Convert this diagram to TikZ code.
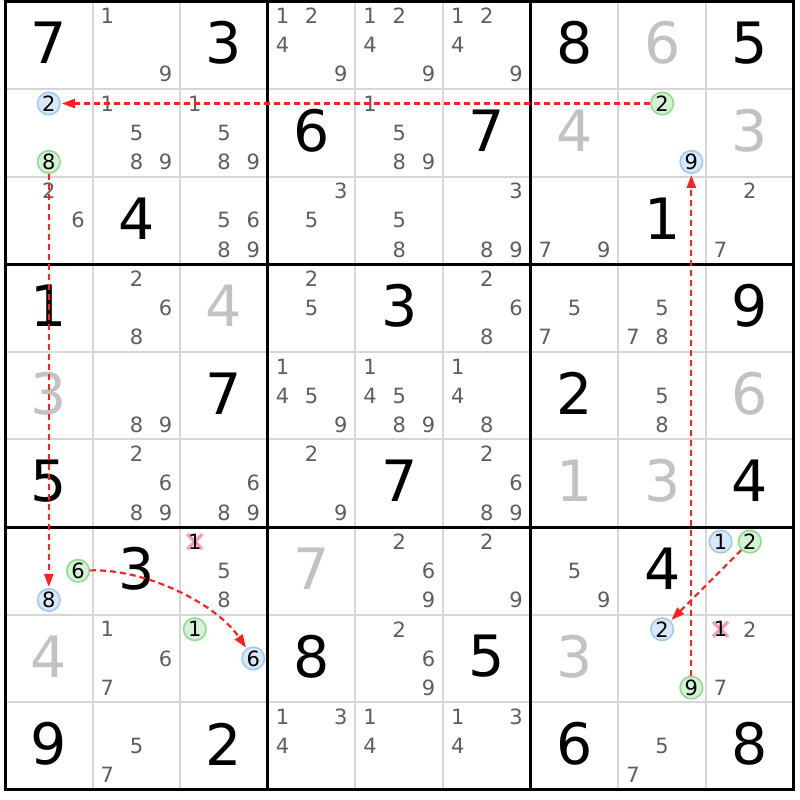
\documentclass[tikz,border=0pt]{standalone}
\usepackage{fontspec}
\setmainfont{DejaVu Sans}
\usetikzlibrary{arrows.meta}
\definecolor{thingrid}{HTML}{D6D6D6}
\definecolor{candcol}{HTML}{5E5E5E}
\definecolor{givgray}{HTML}{C2C2C2}
\definecolor{blueF}{HTML}{D9E9FB}
\definecolor{blueB}{HTML}{9FC9F3}
\definecolor{greenF}{HTML}{D6F2D6}
\definecolor{greenB}{HTML}{8FDC8F}
\definecolor{linkred}{HTML}{FF2020}
\definecolor{crosspink}{HTML}{F5A0AA}
\def\cs{87.62}
\def\ox{5}
\def\oy{1.3}
\newcommand\Given[4]{%
  \pgfmathsetmacro\gx{\ox+\cs*(#2+0.5)}%
  \pgfmathsetmacro\gy{800-\oy-\cs*(#1+0.5)+2}%
  \node[givenstyle,text=#4] (g#1#2) at (\gx,\gy) {#3};}
\newcommand\CandPos[3]{%
  \pgfmathsetmacro\cx{\ox+\cs*#2+\cs*(2*mod(#3-1,3)+1)/6}%
  \pgfmathsetmacro\cy{800-\oy-\cs*#1-\cs*(2*floor((#3-1)/3)+1)/6}}
\newcommand\Cand[3]{\CandPos{#1}{#2}{#3}\node[candstyle] (c#1#2#3) at (\cx,\cy) {#3};}
\newcommand\Cands[3]{\foreach \dd in {#3}{\Cand{#1}{#2}{\dd}}}
\newcommand\HCand[4]{\CandPos{#1}{#2}{#3}\node[#4] (h#1#2#3) at (\cx,\cy) {#3};}
\newcommand\XCand[3]{\CandPos{#1}{#2}{#3}%
  \draw[crossline] (\cx-7.5,\cy-7.5) -- (\cx+7.5,\cy+7.5) (\cx-7.5,\cy+7.5) -- (\cx+7.5,\cy-7.5);
  \node[candstyle,text=black] (x#1#2#3) at (\cx,\cy) {#3};}
\tikzset{
  givenstyle/.style={inner sep=0pt,font=\fontsize{57}{60}\selectfont},
  candstyle/.style={inner sep=0pt,text=candcol,font=\fontsize{21}{23}\selectfont},
  hlbase/.style={circle,inner sep=0pt,minimum size=22.5pt,line width=1.6pt,text=black,font=\fontsize{21}{23}\selectfont},
  hlblue/.style={hlbase,draw=blueB,fill=blueF},
  hlgreen/.style={hlbase,draw=greenB,fill=greenF},
  crossline/.style={crosspink,line width=3.4pt},
  thinline/.style={thingrid,line width=2pt},
  thickline/.style={black,line width=3pt},
  link/.style={linkred,line width=2.2pt,dash pattern=on 6pt off 4pt,-{Triangle[length=13pt,width=9pt]},shorten >=1pt}
}
\begin{document}
\begin{tikzpicture}[x=1pt,y=1pt]
\useasboundingbox (0,0) rectangle (800,800);
\fill[white] (0,0) rectangle (800,800);
% grid
\foreach \i in {1,2,4,5,7,8}{
  \draw[thinline] ({\ox+\cs*\i},{800-\oy}) -- ({\ox+\cs*\i},{800-\oy-9*\cs});
  \draw[thinline] (\ox,{800-\oy-\cs*\i}) -- ({\ox+9*\cs},{800-\oy-\cs*\i});
}
\foreach \i in {0,3,6,9}{
  \draw[thickline] ({\ox+\cs*\i},{800-\oy+1.5}) -- ({\ox+\cs*\i},{800-\oy-9*\cs-1.5});
  \draw[thickline] (\ox-1.5,{800-\oy-\cs*\i}) -- ({\ox+9*\cs+1.5},{800-\oy-\cs*\i});
}
% givens
\Given{0}{0}{7}{black}\Given{0}{2}{3}{black}\Given{0}{6}{8}{black}\Given{0}{7}{6}{givgray}\Given{0}{8}{5}{black}
\Given{1}{3}{6}{black}\Given{1}{5}{7}{black}\Given{1}{6}{4}{givgray}\Given{1}{8}{3}{givgray}
\Given{2}{1}{4}{black}\Given{2}{7}{1}{black}
\Given{3}{0}{1}{black}\Given{3}{2}{4}{givgray}\Given{3}{4}{3}{black}\Given{3}{8}{9}{black}
\Given{4}{0}{3}{givgray}\Given{4}{2}{7}{black}\Given{4}{6}{2}{black}\Given{4}{8}{6}{givgray}
\Given{5}{0}{5}{black}\Given{5}{4}{7}{black}\Given{5}{6}{1}{givgray}\Given{5}{7}{3}{givgray}\Given{5}{8}{4}{black}
\Given{6}{1}{3}{black}\Given{6}{3}{7}{givgray}\Given{6}{7}{4}{black}
\Given{7}{0}{4}{givgray}\Given{7}{3}{8}{black}\Given{7}{5}{5}{black}\Given{7}{6}{3}{givgray}
\Given{8}{0}{9}{black}\Given{8}{2}{2}{black}\Given{8}{6}{6}{black}\Given{8}{8}{8}{black}
% candidates
\Cands{0}{1}{1,9}\Cands{0}{3}{1,2,4,9}\Cands{0}{4}{1,2,4,9}\Cands{0}{5}{1,2,4,9}
\Cands{1}{1}{1,5,8,9}\Cands{1}{2}{1,5,8,9}\Cands{1}{4}{1,5,8,9}
\Cands{2}{0}{2,6}\Cands{2}{2}{5,6,8,9}\Cands{2}{3}{3,5}\Cands{2}{4}{5,8}\Cands{2}{5}{3,8,9}\Cands{2}{6}{7,9}\Cands{2}{8}{2,7}
\Cands{3}{1}{2,6,8}\Cands{3}{3}{2,5}\Cands{3}{5}{2,6,8}\Cands{3}{6}{5,7}\Cands{3}{7}{5,7,8}
\Cands{4}{1}{8,9}\Cands{4}{3}{1,4,5,9}\Cands{4}{4}{1,4,5,8,9}\Cands{4}{5}{1,4,8}\Cands{4}{7}{5,8}
\Cands{5}{1}{2,6,8,9}\Cands{5}{2}{6,8,9}\Cands{5}{3}{2,9}\Cands{5}{5}{2,6,8,9}
\Cands{6}{2}{5,8}\Cands{6}{4}{2,6,9}\Cands{6}{5}{2,9}\Cands{6}{6}{5,9}
\Cands{7}{1}{1,6,7}\Cands{7}{4}{2,6,9}\Cands{7}{8}{2,7}
\Cands{8}{1}{5,7}\Cands{8}{3}{1,3,4}\Cands{8}{4}{1,4}\Cands{8}{5}{1,3,4}\Cands{8}{7}{5,7}
% crossed candidates
\XCand{6}{2}{1}
\XCand{7}{8}{1}
% highlighted candidates
\HCand{1}{0}{2}{hlblue}\HCand{1}{0}{8}{hlgreen}
\HCand{1}{7}{2}{hlgreen}\HCand{1}{7}{9}{hlblue}
\HCand{6}{0}{6}{hlgreen}\HCand{6}{0}{8}{hlblue}
\HCand{6}{8}{1}{hlblue}\HCand{6}{8}{2}{hlgreen}
\HCand{7}{2}{1}{hlgreen}\HCand{7}{2}{6}{hlblue}
\HCand{7}{7}{2}{hlblue}\HCand{7}{7}{9}{hlgreen}
% links
\draw[link] (h172) -- (h102);
\draw[link] (h108) -- (h608);
\draw[link] (h606) to[out=2,in=124,looseness=0.8] (h726);
\draw[link] (h682) -- (h772);
\draw[link] (h779) -- (h179);
\end{tikzpicture}
\end{document}
